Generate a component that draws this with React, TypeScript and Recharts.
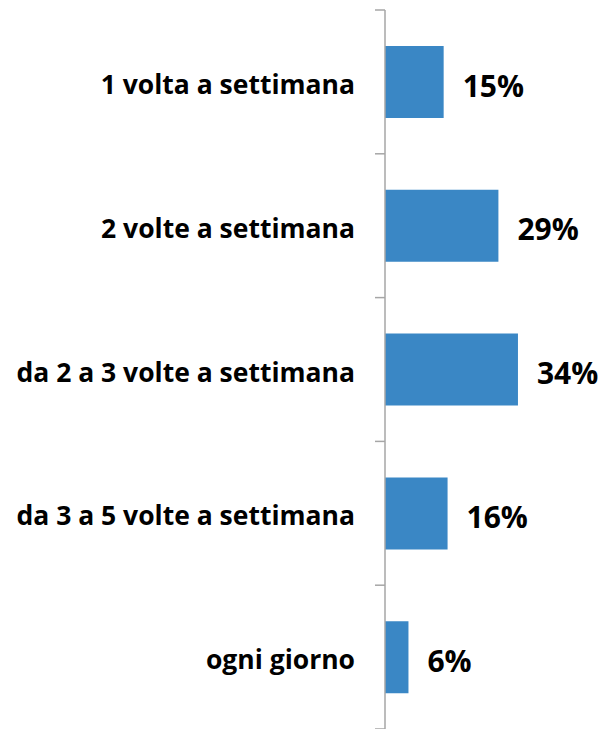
import { BarChart, Bar, XAxis, YAxis, LabelList } from "recharts";

const categories = [
  "1 volta a settimana",
  "2 volte a settimana",
  "da 2 a 3 volte a settimana",
  "da 3 a 5 volte a settimana",
  "ogni giorno",
];
const shares = [15, 29, 34, 16, 6];

const data = categories.map((name, i) => ({ name, value: shares[i] }));

const FONT = "'Open Sans', sans-serif";
const GREY = "#a6a6a6";

// label plus the small tick marks that sit on the category boundaries
function CategoryTick(props: any) {
  const { x, y, payload, index } = props;
  const half = payload.offset || 0;
  const axisX = x + 30;
  return (
    <g>
      <text
        x={x}
        y={y}
        dy={12}
        textAnchor="end"
        fontSize={26.5}
        fontWeight={700}
        fontFamily={FONT}
        fill="#000"
      >
        {payload.value}
      </text>
      <line x1={axisX - 10} x2={axisX} y1={y - half} y2={y - half} stroke={GREY} strokeWidth={1.5} />
      {index === categories.length - 1 && (
        <line x1={axisX - 10} x2={axisX} y1={y + half} y2={y + half} stroke={GREY} strokeWidth={1.5} />
      )}
    </g>
  );
}

export default function App() {
  return (
    <div style={{ position: "absolute", left: 0, top: 0, background: "#fff" }}>
      <BarChart
        width={604}
        height={729}
        data={data}
        layout="vertical"
        margin={{ top: 10, right: 0, bottom: 0, left: 0 }}
        barSize={72}
      >
        <XAxis type="number" domain={[0, 56]} hide />
        <YAxis
          type="category"
          dataKey="name"
          width={385}
          axisLine={{ stroke: GREY, strokeWidth: 1.5 }}
          tickLine={false}
          tickSize={0}
          tickMargin={30}
          tick={<CategoryTick />}
        />
        <Bar dataKey="value" fill="#3a87c5" isAnimationActive={false}>
          <LabelList
            dataKey="value"
            position="right"
            offset={19}
            dy={4}
            formatter={(v: number) => `${v}%`}
            style={{ fontSize: 30, fontWeight: 700, fill: "#000", fontFamily: FONT }}
          />
        </Bar>
      </BarChart>
    </div>
  );
}
